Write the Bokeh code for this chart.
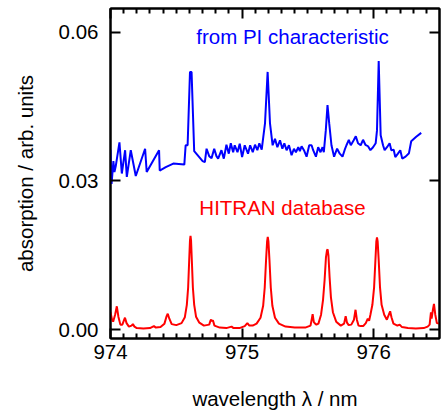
from bokeh.plotting import figure
from bokeh.models import LinearAxis, FixedTicker, CustomJSTickFormatter, Label, Range1d, PrintfTickFormatter
from bokeh.embed import file_html
from bokeh.resources import INLINE

# ---- data ----
wl_pi = [974.000, 974.008, 974.022, 974.030, 974.040, 974.068, 974.086, 974.111, 974.124,
         974.154, 974.192, 974.263, 974.275, 974.369, 974.374, 974.420, 974.477, 974.561,
         974.571, 974.586, 974.604, 974.616, 974.636, 974.700, 974.717, 974.730, 974.750,
         974.768, 974.788, 974.805, 974.818, 974.843, 974.861, 974.881, 974.899, 974.914,
         974.932, 974.944, 974.965, 974.982, 975.000, 975.020, 975.045, 975.061, 975.081,
         975.098, 975.116, 975.131, 975.149, 975.174, 975.194, 975.212, 975.232, 975.250,
         975.268, 975.288, 975.306, 975.321, 975.338, 975.356, 975.376, 975.394, 975.409,
         975.427, 975.439, 975.452, 975.470, 975.490, 975.510, 975.528, 975.540, 975.561,
         975.578, 975.596, 975.611, 975.621, 975.636, 975.649, 975.662, 975.679, 975.699,
         975.722, 975.742, 975.763, 975.780, 975.793, 975.811, 975.826, 975.848, 975.864,
         975.881, 975.901, 975.919, 975.937, 975.957, 975.975, 975.995, 976.015, 976.025,
         976.038, 976.053, 976.071, 976.083, 976.101, 976.121, 976.134, 976.152, 976.164,
         976.184, 976.202, 976.217, 976.242, 976.268, 976.285, 976.323, 976.361]
abs_pi = [0.0363, 0.0294, 0.0340, 0.0318, 0.0330, 0.0378, 0.0315, 0.0362, 0.0308,
          0.0362, 0.0310, 0.0365, 0.0318, 0.0362, 0.0321, 0.0328, 0.0335, 0.0333,
          0.0372, 0.0372, 0.0520, 0.0520, 0.0360, 0.0340, 0.0338, 0.0365, 0.0350,
          0.0346, 0.0365, 0.0350, 0.0345, 0.0362, 0.0345, 0.0373, 0.0355, 0.0376,
          0.0358, 0.0372, 0.0358, 0.0375, 0.0348, 0.0372, 0.0355, 0.0372, 0.0358,
          0.0373, 0.0362, 0.0376, 0.0363, 0.0416, 0.0520, 0.0416, 0.0372, 0.0385,
          0.0368, 0.0382, 0.0365, 0.0376, 0.0362, 0.0372, 0.0352, 0.0365, 0.0358,
          0.0368, 0.0360, 0.0370, 0.0362, 0.0349, 0.0372, 0.0372, 0.0362, 0.0349,
          0.0368, 0.0358, 0.0368, 0.0358, 0.0402, 0.0453, 0.0416, 0.0372, 0.0349,
          0.0365, 0.0355, 0.0349, 0.0363, 0.0372, 0.0383, 0.0372, 0.0382, 0.0390,
          0.0376, 0.0372, 0.0383, 0.0373, 0.0370, 0.0362, 0.0368, 0.0376, 0.0402,
          0.0542, 0.0392, 0.0372, 0.0362, 0.0368, 0.0376, 0.0362, 0.0363, 0.0348,
          0.0355, 0.0362, 0.0345, 0.0349, 0.0356, 0.0380, 0.0389, 0.0397]

wl_hitran = [974.000, 974.010, 974.020, 974.035, 974.048, 974.060, 974.075, 974.090, 974.100,
             974.110, 974.122, 974.140, 974.160, 974.170, 974.182, 974.200, 974.250, 974.300,
             974.330, 974.345, 974.380, 974.410, 974.425, 974.435, 974.447, 974.465, 974.500,
             974.540, 974.565, 974.580, 974.590, 974.598, 974.604, 974.608, 974.612, 974.618,
             974.626, 974.636, 974.650, 974.675, 974.710, 974.750, 974.760, 974.765, 974.772,
             974.778, 974.790, 974.830, 974.880, 974.920, 974.935, 974.980, 975.020, 975.040,
             975.055, 975.080, 975.110, 975.140, 975.160, 975.172, 975.182, 975.190, 975.195,
             975.200, 975.208, 975.218, 975.230, 975.250, 975.280, 975.330, 975.400, 975.480,
             975.520, 975.530, 975.536, 975.545, 975.555, 975.565, 975.580, 975.600, 975.615,
             975.627, 975.637, 975.645, 975.650, 975.656, 975.665, 975.675, 975.690, 975.715,
             975.750, 975.775, 975.787, 975.797, 975.810, 975.830, 975.850, 975.862, 975.872,
             975.885, 975.900, 975.920, 975.940, 975.955, 975.965, 975.975, 975.990, 976.003,
             976.013, 976.020, 976.025, 976.030, 976.038, 976.048, 976.060, 976.080, 976.100,
             976.115, 976.125, 976.135, 976.150, 976.180, 976.197, 976.215, 976.260, 976.320,
             976.380, 976.410, 976.425, 976.435, 976.440, 976.450, 976.458, 976.468, 976.480,
             976.500]
abs_hitran = [0.0035, 0.0022, 0.0016, 0.0030, 0.0047, 0.0026, 0.0010, 0.0010, 0.0017,
              0.0024, 0.0013, 0.0006, 0.0008, 0.0011, 0.0006, 0.0003, 0.0002, 0.0003,
              0.0007, 0.0004, 0.0005, 0.0012, 0.0026, 0.0032, 0.0022, 0.0011, 0.0009,
              0.0013, 0.0025, 0.0050, 0.0085, 0.0140, 0.0180, 0.0189, 0.0180, 0.0140,
              0.0085, 0.0050, 0.0026, 0.0014, 0.0008, 0.0010, 0.0018, 0.0020, 0.0017,
              0.0019, 0.0008, 0.0004, 0.0003, 0.0006, 0.0003, 0.0003, 0.0007, 0.0013,
              0.0008, 0.0008, 0.0012, 0.0024, 0.0048, 0.0085, 0.0140, 0.0178, 0.0187,
              0.0178, 0.0140, 0.0085, 0.0048, 0.0024, 0.0012, 0.0006, 0.0004, 0.0004,
              0.0008, 0.0022, 0.0031, 0.0015, 0.0012, 0.0010, 0.0012, 0.0030, 0.0060,
              0.0100, 0.0145, 0.0160, 0.0162, 0.0150, 0.0105, 0.0065, 0.0035, 0.0016,
              0.0008, 0.0012, 0.0027, 0.0014, 0.0009, 0.0010, 0.0020, 0.0040, 0.0020,
              0.0008, 0.0007, 0.0007, 0.0013, 0.0022, 0.0018, 0.0030, 0.0050, 0.0085,
              0.0140, 0.0178, 0.0186, 0.0178, 0.0140, 0.0085, 0.0050, 0.0030, 0.0020,
              0.0030, 0.0037, 0.0025, 0.0012, 0.0008, 0.0010, 0.0005, 0.0003, 0.0002,
              0.0003, 0.0006, 0.0010, 0.0035, 0.0022, 0.0040, 0.0052, 0.0030, 0.0013,
              0.0012]

x_major_ticks = [974, 975, 976]
x_minor_ticks = [974.1, 974.2, 974.3, 974.4, 974.5, 974.6, 974.7, 974.8, 974.9,
                 975.1, 975.2, 975.3, 975.4, 975.5, 975.6, 975.7, 975.8, 975.9,
                 976.1, 976.2, 976.3, 976.4]
y_major_ticks = [0.0, 0.03, 0.06]

FONT = "Liberation Sans"
FS = "20.5px"

p = figure(width=445, height=412, x_range=Range1d(974.0, 976.5), y_range=Range1d(-0.0018, 0.0648),
           output_backend="svg", toolbar_location=None,
           min_border_left=110, min_border_right=6, min_border_top=8, min_border_bottom=74)
p.background_fill_color = "white"
p.border_fill_color = "white"
p.outline_line_color = "black"
p.outline_line_width = 2
p.xgrid.visible = False
p.ygrid.visible = False

p.line(wl_hitran, abs_hitran, line_color="#ff0000", line_width=2)
p.line(wl_pi, abs_pi, line_color="#0000ff", line_width=2)

blank = CustomJSTickFormatter(code="return ''")

def style_axis(ax):
    ax.axis_line_width = 2
    ax.axis_line_color = "black"
    ax.major_tick_line_width = 2
    ax.minor_tick_line_width = 2
    ax.major_tick_in = 10
    ax.major_tick_out = 0
    ax.minor_tick_in = 5
    ax.minor_tick_out = 0
    ax.major_label_text_font = FONT
    ax.major_label_text_font_size = FS
    ax.major_label_text_color = "black"
    ax.axis_label_text_font = FONT
    ax.axis_label_text_font_size = FS
    ax.axis_label_text_font_style = "normal"
    ax.axis_label_text_color = "black"

xb = p.xaxis[0]
xb.ticker = FixedTicker(ticks=x_major_ticks, minor_ticks=x_minor_ticks)
style_axis(xb)
xb.major_label_standoff = 6
xb.axis_label = "wavelength λ / nm"
xb.axis_label_standoff = 25

yl = p.yaxis[0]
yl.ticker = FixedTicker(ticks=y_major_ticks)
yl.formatter = PrintfTickFormatter(format="%.2f")
style_axis(yl)
yl.major_label_standoff = 12
yl.axis_label = "absorption / arb. units"
yl.axis_label_standoff = 19

xt = LinearAxis(ticker=FixedTicker(ticks=x_major_ticks, minor_ticks=x_minor_ticks), formatter=blank)
style_axis(xt)
xt.major_label_standoff = 0
p.add_layout(xt, "above")

yr = LinearAxis(ticker=FixedTicker(ticks=y_major_ticks), formatter=blank)
style_axis(yr)
yr.major_label_standoff = 0
p.add_layout(yr, "right")

p.add_layout(Label(x=975.383, y=0.0592, text="from PI characteristic", text_align="center",
                   text_baseline="middle", text_font=FONT, text_font_size=FS, text_color="#0000ff"))
p.add_layout(Label(x=975.307, y=0.0246, text="HITRAN database", text_align="center",
                   text_baseline="middle", text_font=FONT, text_font_size=FS, text_color="#ff0000"))

open("out.html", "w").write(file_html(p, INLINE))
